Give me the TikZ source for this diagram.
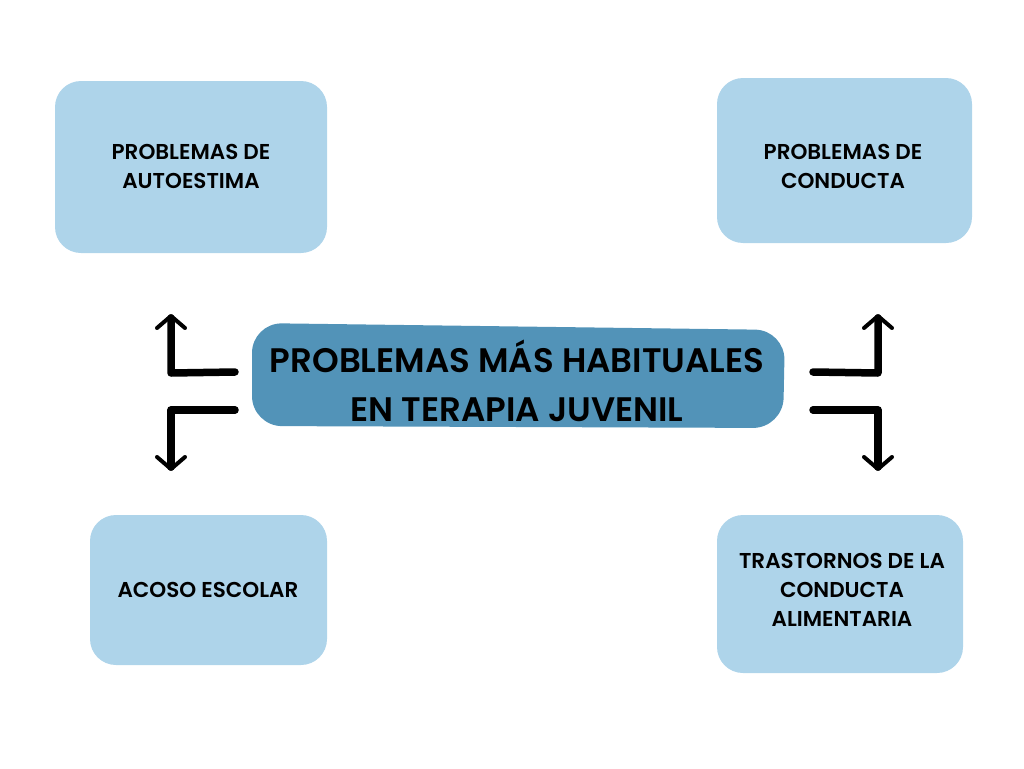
\documentclass[tikz,border=0pt]{standalone}
\usepackage{fontspec}
\setmainfont{Poppins}[UprightFont=* Medium, BoldFont=* SemiBold]
\usetikzlibrary{arrows.meta}
\definecolor{lightbox}{HTML}{AED4EA}
\definecolor{darkbox}{HTML}{5293B8}
\begin{document}
\begin{tikzpicture}[x=1pt,y=-1pt,
  box/.style={fill=lightbox, rounded corners=26pt},
  lbl/.style={align=center, font=\fontsize{21.5}{29}\selectfont\bfseries, text=black},
  arr/.style={line width=7.5pt, line cap=round, line join=round,
    -{Straight Barb[length=12pt,width=28pt,line width=4pt,round]}}]
\useasboundingbox (0,0) rectangle (1024,768);
% boxes
\fill[box] (55,81) rectangle (327,253);
\fill[box] (717,78) rectangle (972,243);
\fill[box] (90,515) rectangle (327,665);
\fill[box] (717,515) rectangle (963,673);
\fill[darkbox, rounded corners=30pt] (252,323) -- (785,330) -- (783,428) -- (252,426) -- cycle;
% labels
\node[lbl] (tl) at (191,166) {PROBLEMAS DE\\AUTOESTIMA};
\node[lbl] (tr) at (843,166) {PROBLEMAS DE\\CONDUCTA};
\node[lbl] (bl) at (208,590) {ACOSO ESCOLAR};
\node[lbl] (br) at (842,590) {TRASTORNOS DE LA\\CONDUCTA\\ALIMENTARIA};
\node[align=center, font=\fontsize{34}{49}\selectfont\bfseries] (c) at (517,381) {PROBLEMAS MÁS HABITUALES\\EN TERAPIA JUVENIL};
% arrows
\coordinate (a1) at (235,372); \coordinate (a1e) at (171,314);
\coordinate (a2) at (235,410); \coordinate (a2e) at (171,471);
\coordinate (a3) at (813,372); \coordinate (a3e) at (878,314);
\coordinate (a4) at (813,410); \coordinate (a4e) at (878,471);
\draw[arr] (a1) -- (171,373) -- (a1e);
\draw[arr] (a2) -- (171,410) -- (a2e);
\draw[arr] (a3) -- (878,373) -- (a3e);
\draw[arr] (a4) -- (878,410) -- (a4e);
\end{tikzpicture}
\end{document}
